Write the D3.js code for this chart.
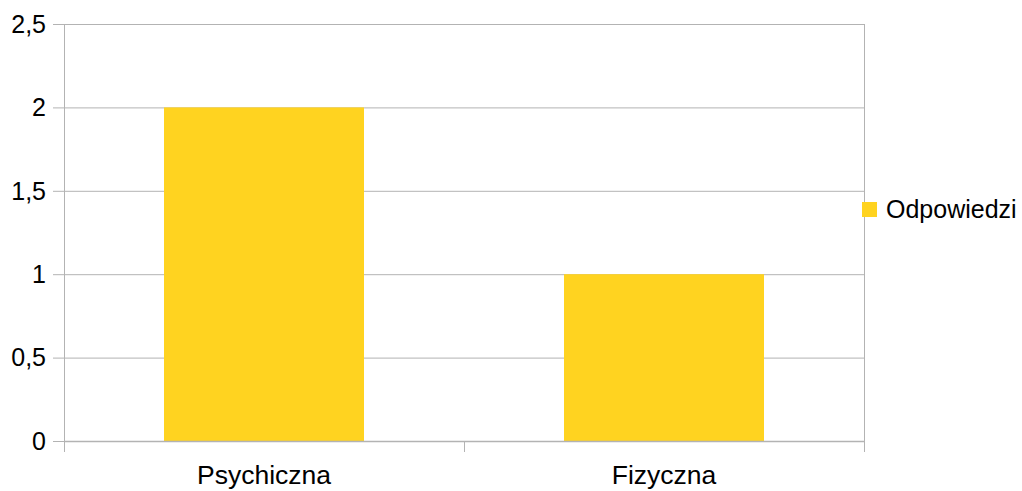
<!DOCTYPE html>
<html>
<head>
<meta charset="utf-8">
<script src="https://cdn.jsdelivr.net/npm/d3@7"></script>
<style>
  body { margin: 0; background: #fff; }
  svg text { font-family: "Liberation Sans", Arial, sans-serif; fill: #000; }
</style>
</head>
<body>
<div id="chart"></div>
<script>
// data
var categories = ["Psychiczna", "Fizyczna"];
var values = [2, 1];
var yTicks = [0, 0.5, 1, 1.5, 2, 2.5];
var seriesName = "Odpowiedzi";

var width = 1022, height = 491;
var plot = {left: 64, right: 864, top: 24, bottom: 441};
var fontSize = 25;
var catFontSize = 26.5;
var barColor = "#ffd320";
var lineColor = "#b3b3b3";

var svg = d3.select("#chart").append("svg")
    .attr("width", width)
    .attr("height", height);

var x = d3.scaleBand()
    .domain(categories)
    .range([plot.left, plot.right])
    .paddingInner(0.5)
    .paddingOuter(0.25);

var y = d3.scaleLinear()
    .domain([0, 2.5])
    .range([plot.bottom, plot.top]);

var fmt = d3.formatLocale({decimal: ",", thousands: " ", grouping: [3], currency: ["", ""]}).format("~g");

// horizontal gridlines
svg.append("g").selectAll("line")
    .data(yTicks)
    .enter().append("line")
    .attr("x1", plot.left - 11)
    .attr("x2", plot.right)
    .attr("y1", function(d) { return y(d) + 0.5; })
    .attr("y2", function(d) { return y(d) + 0.5; })
    .style("stroke", lineColor)
    .style("stroke-width", 1);

// bars
svg.append("g").selectAll("rect")
    .data(values)
    .enter().append("rect")
    .attr("x", function(d, i) { return x(categories[i]); })
    .attr("width", x.bandwidth())
    .attr("y", function(d) { return y(d); })
    .attr("height", function(d) { return y(0) - y(d); })
    .style("fill", barColor);

// left axis line, right border
svg.append("line")
    .attr("x1", plot.left + 0.5).attr("x2", plot.left + 0.5)
    .attr("y1", plot.top).attr("y2", plot.bottom + 11)
    .style("stroke", lineColor);
svg.append("line")
    .attr("x1", plot.right + 0.5).attr("x2", plot.right + 0.5)
    .attr("y1", plot.top).attr("y2", plot.bottom + 11)
    .style("stroke", lineColor);

// bottom axis line and category ticks
svg.append("line")
    .attr("x1", plot.left).attr("x2", plot.right)
    .attr("y1", y(0) + 0.5).attr("y2", y(0) + 0.5)
    .style("stroke", lineColor)
    .style("stroke-width", 1.5);
var step = x.step();
svg.append("g").selectAll("line")
    .data(d3.range(categories.length + 1))
    .enter().append("line")
    .attr("x1", function(i) { return plot.left + i * step + 0.5; })
    .attr("x2", function(i) { return plot.left + i * step + 0.5; })
    .attr("y1", plot.bottom)
    .attr("y2", plot.bottom + 11)
    .style("stroke", lineColor);

// y tick labels
svg.append("g").selectAll("text")
    .data(yTicks)
    .enter().append("text")
    .attr("x", 46)
    .attr("y", function(d) { return y(d); })
    .attr("dy", "0.35em")
    .attr("text-anchor", "end")
    .style("font-size", fontSize + "px")
    .text(function(d) { return fmt(d); });

// category labels
svg.append("g").selectAll("text")
    .data(categories)
    .enter().append("text")
    .attr("x", function(d) { return x(d) + x.bandwidth() / 2; })
    .attr("y", 484)
    .attr("text-anchor", "middle")
    .style("font-size", catFontSize + "px")
    .text(function(d) { return d; });

// legend
var legend = svg.append("g").attr("transform", "translate(862,202)");
legend.append("rect")
    .attr("width", 15).attr("height", 15)
    .style("fill", barColor);
legend.append("text")
    .attr("x", 24)
    .attr("y", 7.5)
    .attr("dy", "0.35em")
    .style("font-size", fontSize + "px")
    .text(seriesName);
</script>
</body>
</html>
